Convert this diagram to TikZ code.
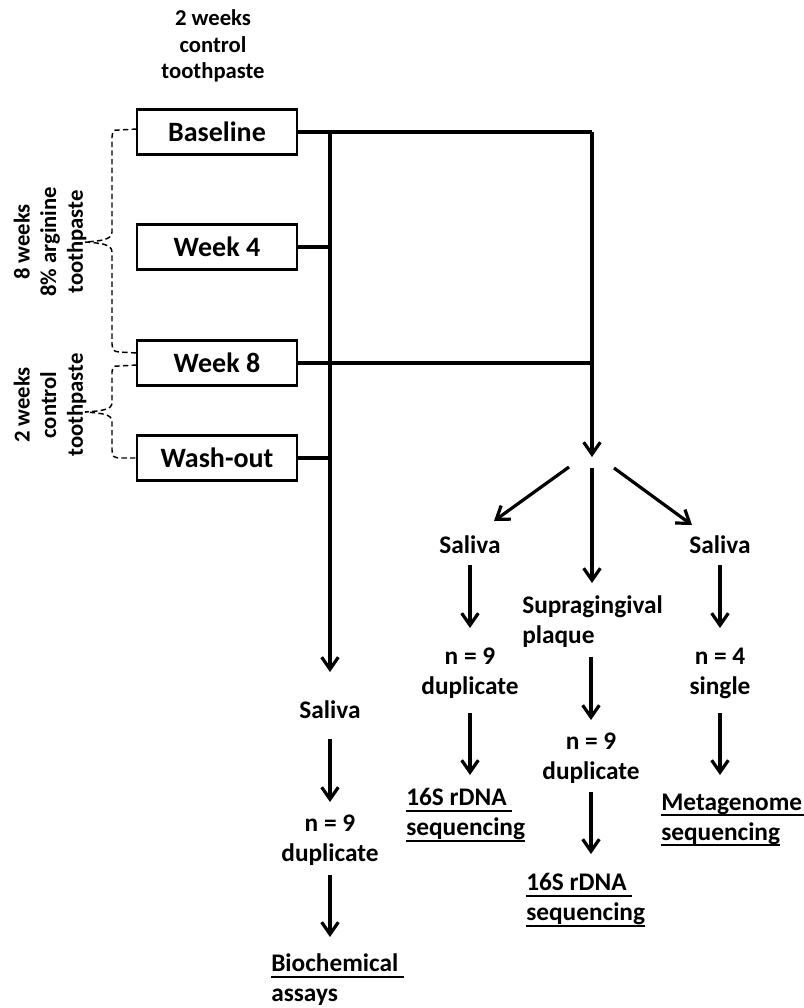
\documentclass[tikz,border=0pt]{standalone}
\usepackage{fontspec}
\setmainfont{Carlito}
\newcommand{\myul}[1]{\setbox0\hbox{#1}\rlap{\rule[-4.5pt]{\wd0}{1.4pt}}\box0}
\usetikzlibrary{arrows.meta,calc}
\begin{document}
\begin{tikzpicture}[x=0.75pt,y=-0.75pt,
  boxnode/.style={draw,line width=2.2pt,minimum width=120pt,minimum height=34pt,inner sep=0pt,
    font=\fontsize{21}{25}\selectfont\bfseries},
  txt/.style={align=center,inner sep=0pt,font=\fontsize{19}{22.5}\selectfont\bfseries},
  txtl/.style={align=left,anchor=west,inner sep=0pt,font=\fontsize{19}{22.5}\selectfont\bfseries},
  side/.style={align=center,inner sep=0pt,font=\fontsize{17}{20}\selectfont\bfseries},
  conn/.style={line width=2.4pt},
  arr/.style={line width=2.4pt,-{Straight Barb[length=9pt,width=12.5pt,line width=2.4pt]}},
  brace/.style={line width=1.1pt,dash pattern=on 4pt off 2.5pt}]
\useasboundingbox (0,0) rectangle (804,1008);

% top label
\node[side] (toplab) at (213,46) {2 weeks\\control\\toothpaste};

% boxes
\node[boxnode] (base) at (217,132) {Baseline};
\node[boxnode] (w4) at (217,247) {Week 4};
\node[boxnode] (w8) at (217,363) {Week 8};
\node[boxnode] (wo) at (217,458) {Wash-out};

% side labels
\node[side,rotate=90] (lab1) at (50,242) {8 weeks\\8\% arginine\\toothpaste};
\node[side,rotate=90] (lab2) at (50,405) {2 weeks\\control\\toothpaste};

% braces
\coordinate (b1a) at (137,129);
\coordinate (b1tip) at (85,242);
\coordinate (b1b) at (137,353);
\draw[brace] (b1a) -- (119,130) .. controls (113,130) .. (112,137) -- (112,232)
  .. controls (112,240) and (100,241) .. (b1tip)
  .. controls (100,243) and (112,244) .. (112,252) -- (112,344)
  .. controls (113,351) .. (119,352) -- (b1b);
\coordinate (b2a) at (137,365);
\coordinate (b2tip) at (85,412);
\coordinate (b2b) at (137,458);
\draw[brace] (b2a) -- (119,366) .. controls (113,366) .. (112,372) -- (112,403)
  .. controls (112,410) and (100,411) .. (b2tip)
  .. controls (100,413) and (112,414) .. (112,421) -- (112,450)
  .. controls (113,457) .. (119,458) -- (b2b);

% trunk lines
\coordinate (jl) at (330,132);
\coordinate (jr) at (592,132);
\coordinate (tipl) at (330,672);
\coordinate (tipr) at (592,457);
\draw[conn] (base.east) -- (jr);
\draw[arr] (jr) -- (tipr);
\draw[arr] (jl) -- (tipl);
\draw[conn] (w4.east) -- (w4.east -| jl);
\draw[conn] (w8.east) -- (w8.east -| jr);
\draw[conn] (wo.east) -- (wo.east -| jl);

% text nodes
\node[txt] (salL) at (330,710) {Saliva};
\node[txt] (nL) at (330,840) {n = 9\\duplicate};
\node[txtl] (bio) at (271,980) {\myul{Biochemical\ }\\assays};

\node[txt] (sal1) at (470,545) {Saliva};
\node[txt] (n1) at (470,673) {n = 9\\duplicate};
\node[txtl] (seq1) at (406,815) {\myul{16S rDNA\ }\\\myul{sequencing}};

\node[txtl] (sup) at (522,622) {Supragingival\\plaque};
\node[txt] (n2) at (591,758) {n = 9\\duplicate};
\node[txtl] (seq2) at (526,900) {\myul{16S rDNA\ }\\\myul{sequencing}};

\node[txt] (sal3) at (720,545) {Saliva};
\node[txt] (n3) at (720,673) {n = 4\\single};
\node[txtl] (meta) at (661,820) {\myul{Metagenome\ }\\\myul{sequencing}};

% fork arrows
\coordinate (f1s) at (569,467); \coordinate (f1e) at (494,521);
\coordinate (f2s) at (592,468); \coordinate (f2e) at (592,583);
\coordinate (f3s) at (614,468); \coordinate (f3e) at (692,525);
\draw[arr] (f1s) -- (f1e);
\draw[arr] (f2s) -- (f2e);
\draw[arr] (f3s) -- (f3e);

% column arrows
\coordinate (aL1s) at (330,739); \coordinate (aL1e) at (330,802);
\coordinate (aL2s) at (330,875); \coordinate (aL2e) at (330,937);
\draw[arr] (aL1s) -- (aL1e);
\draw[arr] (aL2s) -- (aL2e);

\coordinate (a11s) at (470,565); \coordinate (a11e) at (470,628);
\coordinate (a12s) at (470,713); \coordinate (a12e) at (470,775);
\draw[arr] (a11s) -- (a11e);
\draw[arr] (a12s) -- (a12e);

\coordinate (a21s) at (591,657); \coordinate (a21e) at (591,720);
\coordinate (a22s) at (591,792); \coordinate (a22e) at (591,854);
\draw[arr] (a21s) -- (a21e);
\draw[arr] (a22s) -- (a22e);

\coordinate (a31s) at (720,565); \coordinate (a31e) at (720,628);
\coordinate (a32s) at (720,713); \coordinate (a32e) at (720,775);
\draw[arr] (a31s) -- (a31e);
\draw[arr] (a32s) -- (a32e);
\end{tikzpicture}
\end{document}
